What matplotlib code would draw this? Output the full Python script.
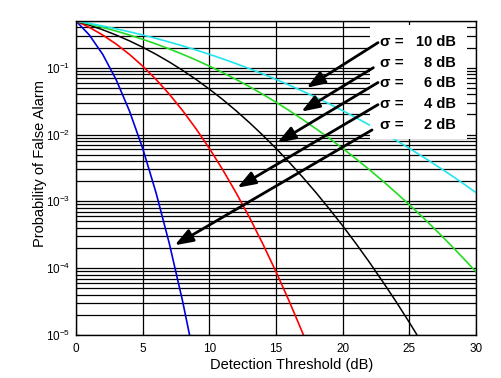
import matplotlib
matplotlib.use("Agg")
import matplotlib.pyplot as plt
from matplotlib.patches import Rectangle

plt.rcParams['font.family'] = ['Liberation Sans', 'DejaVu Sans']
plt.rcParams['mathtext.fontset'] = 'custom'
plt.rcParams['mathtext.rm'] = 'Liberation Sans'
plt.rcParams['mathtext.it'] = 'Liberation Sans:italic'
plt.rcParams['mathtext.bf'] = 'Liberation Sans:bold'

# detection threshold in dB, one point per dB
thr2 = list(range(0, 10))
pfa2 = [0.5, 0.3085, 0.1587, 0.0668, 0.02275, 0.00621, 0.00135, 0.000233, 3.17e-5, 3.4e-6]

thr4 = list(range(0, 19))
pfa4 = [0.5, 0.401, 0.3085, 0.2266, 0.1587, 0.1056, 0.0668, 0.0401, 0.02275, 0.0122,
        0.00621, 0.00298, 0.00135, 0.00058, 0.000233, 8.84e-5, 3.17e-5, 1.07e-5, 3.4e-6]

thr6 = list(range(0, 27))
pfa6 = [0.5, 0.4338, 0.3696, 0.3085, 0.2525, 0.2024, 0.1587, 0.1216, 0.0912, 0.0668,
        0.0478, 0.0334, 0.02275, 0.0151, 0.0098, 0.00621, 0.00383, 0.0023, 0.00135,
        0.00077, 0.00043, 0.000233, 0.000123, 6.3e-5, 3.17e-5, 1.54e-5, 7.3e-6]

thr8 = list(range(0, 31))
pfa8 = [0.5, 0.4503, 0.4013, 0.3538, 0.3085, 0.266, 0.2266, 0.1908, 0.1587, 0.1303,
        0.1056, 0.0846, 0.0668, 0.0521, 0.0401, 0.0304, 0.02275, 0.0168, 0.0122, 0.00877,
        0.00621, 0.00433, 0.00298, 0.00202, 0.00135, 0.00089, 0.00058, 0.00037, 0.000233,
        0.000144, 8.84e-5]

thr10 = list(range(0, 31))
pfa10 = [0.5, 0.4602, 0.4207, 0.3821, 0.3446, 0.3085, 0.2743, 0.242, 0.2119, 0.1841,
         0.1587, 0.1357, 0.1151, 0.0968, 0.0808, 0.0668, 0.0548, 0.0446, 0.0359, 0.0287,
         0.02275, 0.01786, 0.0139, 0.01072, 0.0082, 0.00621, 0.00466, 0.00347, 0.00256,
         0.00187, 0.00135]

sigma_labels = ['10', '8', '6', '4', '2']

fig = plt.figure(figsize=(5.01, 3.78), dpi=100)
ax = fig.add_axes([0.1517, 0.1138, 0.7984, 0.8307])

ax.plot(thr2, pfa2, color='#0000dd', lw=1.2)
ax.plot(thr4, pfa4, color='#ff0000', lw=1.2)
ax.plot(thr6, pfa6, color='k', lw=1.1)
ax.plot(thr8, pfa8, color='#22dd22', lw=1.2)
ax.plot(thr10, pfa10, color='#22e5ee', lw=1.2)

ax.set_yscale('log')
ax.set_xlim(0, 30)
ax.set_ylim(1e-5, 0.5)
ax.set_xticks([0, 5, 10, 15, 20, 25, 30])
ax.grid(True, which='major', color='k', lw=0.9)
ax.grid(True, which='minor', axis='y', color='k', lw=0.9)
ax.set_axisbelow(True)
ax.tick_params(which='both', direction='in', labelsize=8.5, length=3)
ax.tick_params(axis='x', pad=6)
ax.tick_params(axis='y', pad=4)
ax.tick_params(which='minor', length=2)
for s in ax.spines.values():
    s.set_linewidth(1.0)

ax.set_xlabel('Detection Threshold (dB)', fontsize=10.5)
ax.set_ylabel('Probability of False Alarm', fontsize=10.5)
ax.xaxis.set_label_coords(0.539, -0.073)
ax.yaxis.set_label_coords(-0.072, 0.546)

# white box behind the legend text
ax.add_patch(Rectangle((0.735, 0.624), 0.2425, 0.363, transform=ax.transAxes,
                       facecolor='white', edgecolor='none', zorder=3))

text_y = [0.9315, 0.866, 0.801, 0.736, 0.669]
for lab, ty in zip(sigma_labels, text_y):
    ax.text(0.76, ty, 'σ =', transform=ax.transAxes, fontsize=11,
            fontweight='bold', ha='left', va='center', zorder=4)
    ax.text(0.95, ty, lab + ' dB', transform=ax.transAxes, fontsize=10.5,
            fontweight='bold', ha='right', va='center', zorder=4)

heads = [(17.3, 0.050), (16.9, 0.022), (15.1, 0.0075), (12.1, 0.0016), (7.4, 2.2e-4)]
tails = [(22.65, 0.237), (22.3, 0.10), (22.65, 0.06), (22.65, 0.028), (22.2, 0.0117)]
for h, t in zip(heads, tails):
    ax.annotate('', xy=h, xytext=t,
                arrowprops=dict(arrowstyle='-|>,head_length=1.1,head_width=0.4',
                                lw=2.0, color='k', shrinkA=0, shrinkB=0,
                                mutation_scale=10),
                zorder=5)

fig.savefig('out.png', dpi=100)
